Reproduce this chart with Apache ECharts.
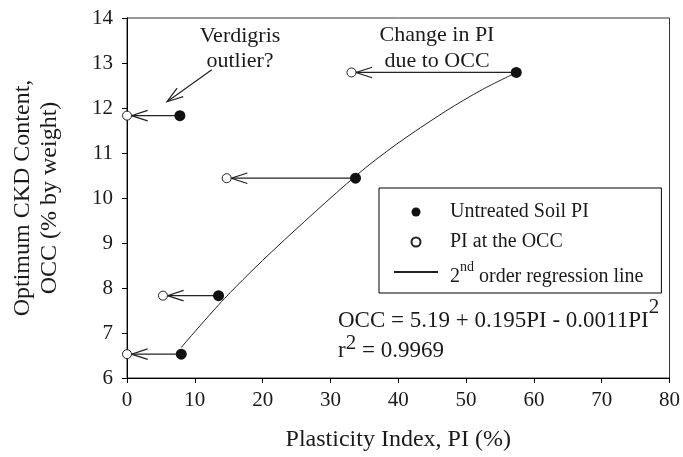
<!DOCTYPE html>
<html>
<head>
<meta charset="utf-8">
<script src="https://cdn.jsdelivr.net/npm/echarts@6/dist/echarts.min.js"></script>
<style>
  html, body { margin: 0; padding: 0; background: #fff; }
  #chart { width: 683px; height: 457px; }
</style>
</head>
<body>
<div id="chart"></div>
<script>
// untreated soil PI vs OCC (filled circles)
const untreatedPI = [7.8, 33.7, 57.4, 13.5, 8.0];
const untreatedOCC = [11.83, 10.44, 12.79, 7.83, 6.53];
// PI measured at the OCC (open circles)
const occPI = [0, 14.7, 33.1, 5.3, 0];
const occOCC = [11.83, 10.44, 12.79, 7.83, 6.53];
// regression line
const curvePI = [8.0, 14.4, 21.8, 33.8, 39.7, 47.0, 52.4, 57.3];
const curveOCC = [6.68, 7.77, 8.87, 10.5, 11.19, 11.93, 12.41, 12.78];
// "Verdigris outlier?" pointer, from -> to (data units)
const outlierFrom = [12.5, 12.85];
const outlierTo = [5.9, 12.14];

const FONT = 'Liberation Serif';
const INK = '#1a1a1a';

const chart = echarts.init(document.getElementById('chart'));

// straight line plus an open "<" head at the end point
const makeArrow = gap => (params, api) => {
  const a = api.coord([api.value(0), api.value(1)]);
  const b = api.coord([api.value(2), api.value(3)]);
  const dx = b[0] - a[0], dy = b[1] - a[1];
  const len = Math.hypot(dx, dy);
  const ux = dx / len, uy = dy / len;
  const tip = [b[0] - ux * gap, b[1] - uy * gap];
  const L = 17, ang = 18 * Math.PI / 180;
  const c = Math.cos(ang) * L, s = Math.sin(ang) * L;
  const arm1 = [tip[0] - ux * c - uy * s, tip[1] - uy * c + ux * s];
  const arm2 = [tip[0] - ux * c + uy * s, tip[1] - uy * c - ux * s];
  const style = { stroke: '#222', lineWidth: 1.2, fill: null };
  return {
    type: 'group',
    children: [
      { type: 'polyline', shape: { points: [a, tip] }, style },
      { type: 'polyline', shape: { points: [arm1, tip, arm2] }, style }
    ]
  };
};

const arrowData = untreatedPI.map((x, i) => [x, untreatedOCC[i], occPI[i], occOCC[i]]);

const supRich = raise => ({
  b: { fontFamily: FONT, fontSize: 23, fill: INK, lineHeight: 26, padding: [raise, 0, 0, 0] },
  s: { fontFamily: FONT, fontSize: 21, fill: INK, lineHeight: 22, padding: [0, 0, raise + 4, 0] }
});

const option = {
  animation: false,
  backgroundColor: '#fff',
  grid: {
    left: 127,
    right: 12,
    top: 18,
    bottom: 77,
    show: true,
    borderColor: '#333',
    borderWidth: 1
  },
  xAxis: {
    type: 'value',
    min: 0,
    max: 80,
    interval: 10,
    name: 'Plasticity Index, PI (%)',
    nameLocation: 'middle',
    nameGap: 50,
    nameTextStyle: { fontFamily: FONT, fontSize: 24, color: INK },
    axisLine: { lineStyle: { color: '#000', width: 1 } },
    axisTick: { length: 5, lineStyle: { color: '#000' } },
    axisLabel: { fontFamily: FONT, fontSize: 21, color: INK, margin: 12 },
    splitLine: { show: false }
  },
  yAxis: {
    type: 'value',
    min: 6,
    max: 14,
    interval: 1,
    name: 'Optimum CKD Content,\nOCC (% by weight)',
    nameLocation: 'middle',
    nameGap: 64,
    nameTextStyle: { fontFamily: FONT, fontSize: 24, color: INK, lineHeight: 27 },
    axisLine: { lineStyle: { color: '#000', width: 1 } },
    axisTick: { length: 5, lineStyle: { color: '#000' } },
    axisLabel: { fontFamily: FONT, fontSize: 21, color: INK, margin: 14 },
    splitLine: { show: false }
  },
  legend: {
    orient: 'vertical',
    left: 379,
    top: 188,
    padding: [9, 18, 6, 14],
    itemGap: 0,
    itemWidth: 44,
    itemHeight: 9,
    borderColor: '#000',
    borderWidth: 1,
    data: [
      'Untreated Soil PI',
      'PI at the OCC',
      { name: 'regression', itemStyle: { opacity: 0 } }
    ],
    formatter: name => name === 'regression'
      ? '{b|2}{s|nd}{b| order regression line}'
      : name,
    textStyle: {
      fontFamily: FONT,
      fontSize: 20,
      color: INK,
      lineHeight: 30,
      padding: [0, 0, 0, 7],
      rich: {
        b: { fontFamily: FONT, fontSize: 20, color: INK, lineHeight: 22, padding: [10, 0, 0, 0] },
        s: { fontFamily: FONT, fontSize: 14, color: INK, lineHeight: 16, padding: [0, 0, 10, 0] }
      }
    }
  },
  graphic: [
    {
      type: 'text',
      style: {
        x: 240, y: 24,
        text: 'Verdigris\noutlier?',
        align: 'center',
        font: '22px "Liberation Serif"',
        lineHeight: 25,
        fill: INK
      }
    },
    {
      type: 'text',
      style: {
        x: 437, y: 22,
        text: 'Change in PI\ndue to OCC',
        align: 'center',
        font: '22px "Liberation Serif"',
        lineHeight: 26,
        fill: INK
      }
    },
    {
      type: 'text',
      left: 338,
      top: 297,
      style: {
        text: '{b|OCC = 5.19 + 0.195PI - 0.0011PI}{s|2}',
        rich: supRich(11)
      }
    },
    {
      type: 'text',
      left: 338,
      top: 333,
      style: {
        text: '{b|r}{s|2}{b| = 0.9969}',
        rich: supRich(5)
      }
    }
  ],
  series: [
    {
      type: 'custom',
      name: 'arrows',
      renderItem: makeArrow(4.5),
      data: arrowData,
      silent: true,
      z: 1
    },
    {
      type: 'custom',
      name: 'pointer',
      renderItem: makeArrow(0),
      data: [[outlierFrom[0], outlierFrom[1], outlierTo[0], outlierTo[1]]],
      silent: true,
      z: 1
    },
    {
      type: 'line',
      name: 'regression',
      data: curvePI.map((x, i) => [x, curveOCC[i]]),
      smooth: 0.3,
      symbol: 'none',
      showSymbol: false,
      lineStyle: { color: '#222', width: 1 },
      itemStyle: { color: '#222' },
      z: 2
    },
    {
      type: 'scatter',
      name: 'Untreated Soil PI',
      data: untreatedPI.map((x, i) => [x, untreatedOCC[i]]),
      symbol: 'circle',
      symbolSize: 11,
      itemStyle: { color: '#111', opacity: 1 },
      z: 3
    },
    {
      type: 'scatter',
      name: 'PI at the OCC',
      data: occPI.map((x, i) => [x, occOCC[i]]),
      symbol: 'circle',
      symbolSize: 9,
      itemStyle: { color: '#fff', borderColor: '#222', borderWidth: 1, opacity: 1 },
      z: 3
    }
  ]
};

chart.setOption(option);
</script>
</body>
</html>
